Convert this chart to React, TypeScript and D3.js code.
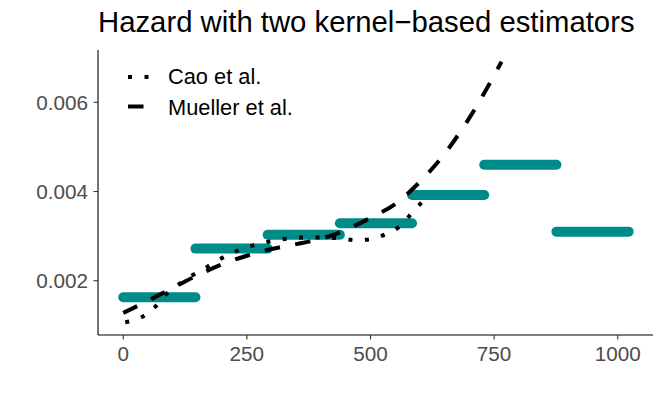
import React from 'react';
import * as d3 from 'd3';

// piecewise-constant hazard (interval starts/ends and level)
const segStart = [0, 146, 292, 438, 584, 730, 876];
const segEnd = [146, 292, 438, 584, 730, 876, 1022];
const segHazard = [0.00163, 0.00272, 0.00303, 0.00329, 0.00392, 0.0046, 0.0031];

// Cao et al. kernel estimator
const caoTime = [4, 40, 65, 85, 110, 135, 165, 190, 220, 250, 280, 310, 340, 375, 405, 440, 470, 500, 530, 560, 580, 603];
const caoHazard = [
  0.00107, 0.0012, 0.00142, 0.00168, 0.0019, 0.00209, 0.00228, 0.00245, 0.00262, 0.00275, 0.00284,
  0.00291, 0.00295, 0.00297, 0.00297, 0.00295, 0.00291, 0.00293, 0.00304, 0.00323, 0.00347, 0.00375,
];

// Mueller et al. kernel estimator
const muellerTime = [0, 50, 100, 150, 200, 250, 300, 350, 400, 450, 500, 550, 600, 650, 700, 765];
const muellerHazard = [
  0.00128, 0.00155, 0.00184, 0.00212, 0.00237, 0.00256, 0.00271, 0.00282, 0.00294, 0.00314, 0.00341,
  0.00372, 0.00422, 0.00485, 0.00565, 0.00691,
];

const xTicks = [0, 250, 500, 750, 1000];
const yTicks = [0.002, 0.004, 0.006];
const legendLabels = ['Cao et al.', 'Mueller et al.'];

const FONT = '"Liberation Sans", Arial, Helvetica, sans-serif';
const TEAL = '#008B8B';
const DOT = '4 12.5';
const DASH = '15.5 15.5';

export default function App() {
  const width = 664;
  const height = 399;
  const panel = { left: 98, right: 653, top: 50, bottom: 335 };

  const x = d3.scaleLinear().domain([-51.1, 1071.3]).range([panel.left, panel.right]);
  const y = d3.scaleLinear().domain([0.000783, 0.007173]).range([panel.bottom, panel.top]);

  const line = d3
    .line<[number, number]>()
    .x((d) => x(d[0]))
    .y((d) => y(d[1]))
    .curve(d3.curveMonotoneX);

  const caoPath = line(caoTime.map((t, i) => [t, caoHazard[i]]));
  const muellerPath = line(muellerTime.map((t, i) => [t, muellerHazard[i]]));

  return (
    <svg
      width={width}
      height={height}
      style={{ position: 'absolute', left: 0, top: 0, background: '#fff' }}
      fontFamily={FONT}
    >
      {/* title */}
      <text x={98} y={32} fontSize={29.3} fill="#000">
        Hazard with two kernel−based estimators
      </text>

      {/* piecewise hazard segments */}
      {segStart.map((s, i) => (
        <line
          key={i}
          x1={x(s)}
          x2={x(segEnd[i])}
          y1={y(segHazard[i])}
          y2={y(segHazard[i])}
          stroke={TEAL}
          strokeWidth={10}
          strokeLinecap="round"
        />
      ))}

      {/* kernel estimators */}
      <path d={caoPath ?? ''} fill="none" stroke="#000" strokeWidth={4} strokeDasharray={DOT} />
      <path d={muellerPath ?? ''} fill="none" stroke="#000" strokeWidth={4} strokeDasharray={DASH} />

      {/* axes */}
      <line x1={panel.left} x2={panel.right} y1={panel.bottom} y2={panel.bottom} stroke="#000" strokeWidth={1.1} />
      <line x1={panel.left} x2={panel.left} y1={panel.top} y2={panel.bottom} stroke="#000" strokeWidth={1.1} />
      {xTicks.map((t) => (
        <g key={t}>
          <line x1={x(t)} x2={x(t)} y1={panel.bottom} y2={panel.bottom + 4.5} stroke="#333" strokeWidth={1.1} />
          <text x={x(t)} y={361} textAnchor="middle" fontSize={20.7} fill="#4D4D4D">
            {t}
          </text>
        </g>
      ))}
      {yTicks.map((t) => (
        <g key={t}>
          <line x1={panel.left - 4.5} x2={panel.left} y1={y(t)} y2={y(t)} stroke="#333" strokeWidth={1.1} />
          <text x={88} y={y(t)} dy="0.36em" textAnchor="end" fontSize={20.7} fill="#4D4D4D">
            {t.toFixed(3)}
          </text>
        </g>
      ))}

      {/* legend */}
      <line x1={128} x2={152} y1={77} y2={77} stroke="#000" strokeWidth={4} strokeDasharray={DOT} />
      <line x1={128} x2={145} y1={106.5} y2={106.5} stroke="#000" strokeWidth={4} strokeDasharray={DASH} />
      {legendLabels.map((l, i) => (
        <text key={l} x={168} y={83.5 + i * 31} fontSize={21.8} fill="#000">
          {l}
        </text>
      ))}
    </svg>
  );
}
